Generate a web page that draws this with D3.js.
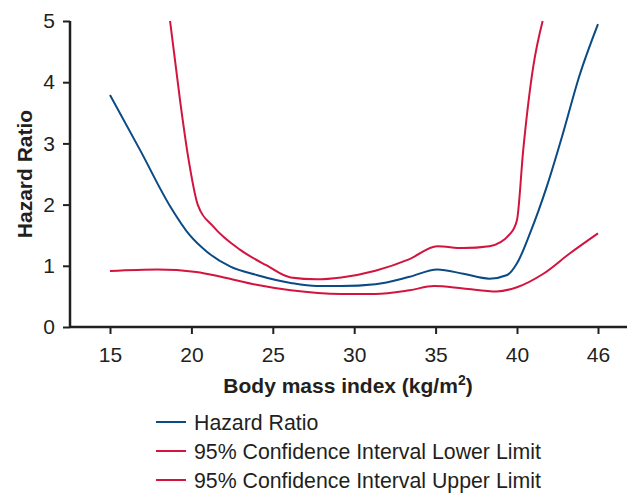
<!DOCTYPE html>
<html>
<head>
<meta charset="utf-8">
<script src="https://cdn.jsdelivr.net/npm/d3@7"></script>
<style>
  html, body { margin: 0; padding: 0; background: #fff; }
  svg { display: block; font-family: "Liberation Sans", Arial, Helvetica, sans-serif; }
</style>
</head>
<body>
<svg id="chart" width="633" height="494"></svg>
<script>
// BMI tick labels (46 sits one equal step after 40)
const xTicks = [15, 20, 25, 30, 35, 40, 46];
const yTicks = [0, 1, 2, 3, 4, 5];

// Hazard ratio curve
const hrBmi = [15, 16.85, 18.7, 19.9, 20.95, 22.4, 24.0, 26.1, 27.7, 29.2, 31.3, 33.4, 35.1, 36.7, 38.3, 39.4, 40.0, 40.96, 42.2, 43.4, 44.6, 46];
const hrVal = [3.79, 2.89, 1.97, 1.50, 1.23, 0.985, 0.85, 0.72, 0.67, 0.67, 0.70, 0.82, 0.94, 0.87, 0.79, 0.85, 1.04, 1.53, 2.29, 3.16, 4.09, 4.95];

// 95% CI lower limit
const loBmi = [15, 17.9, 20.3, 22.0, 24.0, 26.1, 29.2, 31.3, 33.4, 34.9, 36.7, 38.75, 40.0, 41.95, 43.9, 46];
const loVal = [0.915, 0.94, 0.90, 0.81, 0.69, 0.60, 0.54, 0.54, 0.60, 0.67, 0.63, 0.58, 0.65, 0.87, 1.20, 1.53];

// 95% CI upper limit
const upBmi = [18.69, 19.3, 19.8, 20.4, 21.35, 23.0, 24.6, 26.1, 27.7, 29.2, 31.3, 33.4, 35.1, 36.7, 38.3, 39.6, 40.0, 40.46, 41.2, 41.9];
const upVal = [5.0, 3.71, 2.78, 1.99, 1.64, 1.26, 1.01, 0.81, 0.78, 0.81, 0.92, 1.11, 1.32, 1.29, 1.32, 1.53, 1.75, 2.89, 4.25, 5.0];

const legendLabels = ['Hazard Ratio', '95% Confidence Interval Lower Limit', '95% Confidence Interval Upper Limit'];

const BLUE = '#0a4a85', RED = '#d2143f', INK = '#231f20';

const svg = d3.select('#chart');

const x = d3.scaleLinear().domain([15, 40, 46]).range([110, 517, 598]);
const y = d3.scaleLinear().domain([0, 5]).range([327, 21]);

// axes
const xAxis = svg.append('g').attr('transform', 'translate(0,327)')
  .call(d3.axisBottom(x).tickValues(xTicks).tickSize(7).tickPadding(13).tickFormat(d3.format('d')));
xAxis.select('.domain').attr('d', 'M70,0H627');
const yAxis = svg.append('g').attr('transform', 'translate(70,0)')
  .call(d3.axisLeft(y).tickValues(yTicks).tickSize(7).tickPadding(8).tickFormat(d3.format('d')));
yAxis.select('.domain').attr('d', 'M0,21V327');

svg.selectAll('.domain').attr('stroke', INK).attr('stroke-width', 2.5);
svg.selectAll('.tick line').attr('stroke', INK).attr('stroke-width', 2);
svg.selectAll('.tick text').attr('fill', INK).style('font-size', '21px').style('font-family', '"Liberation Sans", Arial, sans-serif');

// axis titles
svg.append('text')
  .attr('x', 348).attr('y', 393)
  .attr('text-anchor', 'middle')
  .attr('fill', INK)
  .style('font-size', '21px').style('font-weight', '700')
  .html('Body mass index (kg/m<tspan dy="-8" font-size="14">2</tspan><tspan dy="8">)</tspan>');

svg.append('text')
  .attr('transform', 'translate(32,174) rotate(-90)')
  .attr('text-anchor', 'middle')
  .attr('fill', INK)
  .style('font-size', '21px').style('font-weight', '700')
  .text('Hazard Ratio');

// lines
const line = d3.line().x(d => x(d[0])).y(d => y(d[1])).curve(d3.curveMonotoneX);
const series = [
  { pts: d3.zip(hrBmi, hrVal), color: BLUE },
  { pts: d3.zip(loBmi, loVal), color: RED },
  { pts: d3.zip(upBmi, upVal), color: RED }
];
svg.append('g').selectAll('path').data(series).join('path')
  .attr('d', d => line(d.pts))
  .attr('fill', 'none')
  .attr('stroke', d => d.color)
  .attr('stroke-width', 2);

// legend
const legendColors = [BLUE, RED, RED];
const lg = svg.append('g').selectAll('g').data(legendLabels).join('g')
  .attr('transform', (d, i) => `translate(156,${422 + i * 29})`);
lg.append('line').attr('x1', 0).attr('x2', 30).attr('y1', 0).attr('y2', 0)
  .attr('stroke', (d, i) => legendColors[i]).attr('stroke-width', 2);
lg.append('text').attr('x', 38).attr('y', 7.5)
  .attr('fill', INK)
  .style('font-size', '21.3px')
  .text(d => d);
</script>
</body>
</html>
